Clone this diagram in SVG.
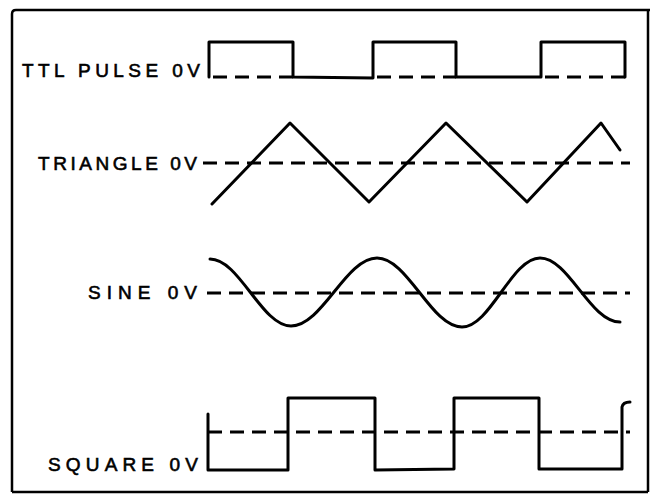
<svg xmlns="http://www.w3.org/2000/svg" width="650" height="496" viewBox="0 0 650 496">
<style>
.wave{fill:none;stroke:#000;stroke-width:3;stroke-linejoin:round;stroke-linecap:round}
.zero{fill:none;stroke:#000;stroke-width:3;stroke-dasharray:14 8}
.lbl{font-family:"Liberation Sans",Arial,sans-serif;font-size:19px;fill:#000;stroke:#000;stroke-width:0.6}
</style>
<rect width="650" height="496" fill="#fff"/>
<path d="M12,492 V14 Q12,10 16,10 H650 M648,10 V492 M12,492 H648" fill="none" stroke="#000" stroke-width="2.5"/>
<g id="ttl">
<text class="lbl" x="22" y="77" textLength="178" lengthAdjust="spacing">TTL PULSE 0V</text>
<path class="wave" d="M209,77 V42 H293 V77 L373,78 V42 H456 V77 H541 V42 H625 V77"/>
<path class="zero" d="M213,77 H293 M377,77 H456 M545,77 H625"/>
</g>
<g id="triangle">
<text class="lbl" x="38" y="170" textLength="159" lengthAdjust="spacing">TRIANGLE 0V</text>
<path class="zero" d="M203,163 H630"/>
<path class="wave" d="M212,204 L290,123 L369,202 L446,123 L527,202 L601,123 L620,150"/>
</g>
<g id="sine">
<text class="lbl" x="88" y="299" textLength="109" lengthAdjust="spacing">SINE 0V</text>
<path class="zero" d="M207,293 H630"/>
<path class="wave" d="M210,259 C239.5,259 261.5,326 291,326 C322.3,326 345.7,258 377,258 C408,258 431,327 462,327 C490.4,327 511.6,258 540,258 C569,258 590,322 620,322"/>
</g>
<g id="square">
<text class="lbl" x="48" y="471" textLength="150" lengthAdjust="spacing">SQUARE 0V</text>
<path class="zero" d="M208,432 H630"/>
<path class="wave" d="M208,414 V470 H288 V398 H375 V470 L454,469 V398 H539 V469 H622 V407 Q623,402 630,402"/>
</g>
</svg>
